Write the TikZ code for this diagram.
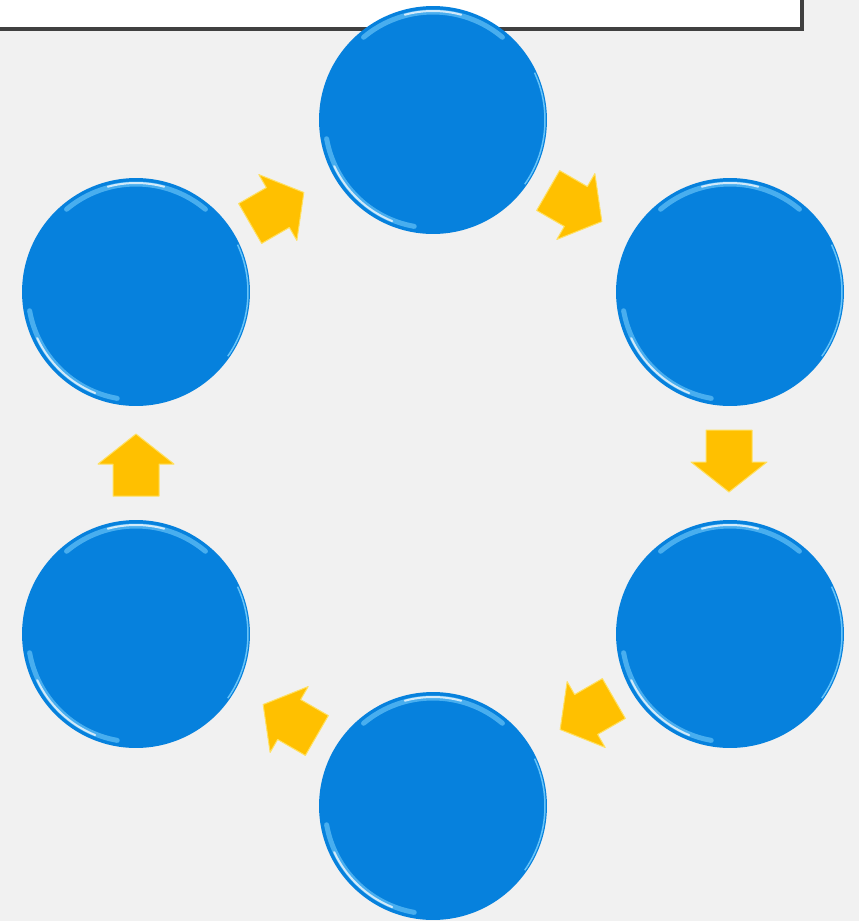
\documentclass[tikz,border=0pt]{standalone}
\usetikzlibrary{calc}
\definecolor{bg}{HTML}{F1F1F1}
\definecolor{disc}{HTML}{0681DD}
\definecolor{rim}{HTML}{7FD4FF}
\definecolor{frame}{HTML}{404040}
\definecolor{gold}{HTML}{FFC000}
\definecolor{goldlite}{HTML}{FFE060}
\tikzset{
  px/.style={x=0.02cm,y=-0.02cm},
  discnode/.style={circle, fill=disc, minimum size=4.56cm, inner sep=0pt, draw=none},
  rimhi/.style={rim, line width=0.1cm, line cap=round, opacity=0.55},
  rimlo/.style={white, line width=0.04cm, line cap=round, opacity=0.75},
  blockarrow/.style={fill=gold, draw=goldlite, line width=0.02cm, line join=round},
}
\newcommand{\blockarr}[3]{% cx, cy, angle
  \path[blockarrow, shift={(#1,#2)}, rotate=#3]
    (-31,-23) -- (1,-23) -- (1,-38) -- (31,0) -- (1,38) -- (1,23) -- (-31,23) -- cycle;
}
% angles in px frame (y down): visual angle a -> -a
\newcommand{\discrim}[1]{%
  \draw[rimhi] ($(#1.center)+(-130:108)$) arc (-130:-50:108);
  \draw[rimhi] ($(#1.center)+(100:108)$) arc (100:170:108);
  \draw[rimlo] ($(#1.center)+(112:109)$) arc (112:155:109);
  \draw[rimlo] ($(#1.center)+(-105:109)$) arc (-105:-75:109);
  \draw[rim, line width=0.03cm, opacity=0.8] ($(#1.center)+(-25:112)$) arc (-25:35:112);
}
\begin{document}
\begin{tikzpicture}[px]
  \useasboundingbox (0,0) rectangle (859,921);
  \clip (0,0) rectangle (859,921);
  \fill[bg] (0,0) rectangle (859,921);
  % top box
  \draw[fill=white, draw=frame, line width=0.08cm] (-10,-10) rectangle (802,29);
  % discs
  \node[discnode] (top) at (433,120) {};
  \node[discnode] (tr) at (730,292) {};
  \node[discnode] (br) at (730,634) {};
  \node[discnode] (bot) at (433,806) {};
  \node[discnode] (bl) at (136,634) {};
  \node[discnode] (tl) at (136,292) {};
  \discrim{top}\discrim{tr}\discrim{br}\discrim{bot}\discrim{bl}\discrim{tl}
  % arrows
  \blockarr{277}{208}{30}
  \blockarr{575}{206}{-30}
  \blockarr{729}{461}{-90}
  \blockarr{587}{714}{-150}
  \blockarr{290}{720}{150}
  \blockarr{136}{465}{90}
\end{tikzpicture}
\end{document}
